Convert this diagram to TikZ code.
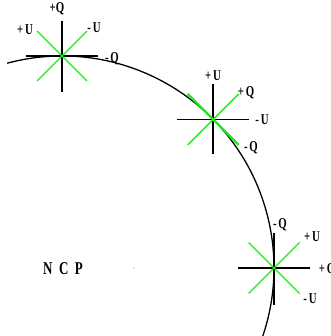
\documentclass[tikz,border=0pt]{standalone}
\usepackage{fontspec}
\setmainfont{Liberation Serif}
\usetikzlibrary{calc}
\definecolor{lime}{RGB}{30,235,30}
\tikzset{
  radline/.style={line width=1.5pt, black},
  tanline/.style={line width=2.6pt, black},
  diagline/.style={line width=1.3pt, lime},
  diagtan/.style={line width=2.2pt, lime},
  curve/.style={line width=1.3pt, black},
  lbl/.style={font=\bfseries\fontsize{15}{15}\selectfont, inner sep=0pt, xscale=0.72},
  big/.style={font=\bfseries\fontsize{18}{18}\selectfont, inner sep=0pt, xscale=0.72}
}
\begin{document}
\begin{tikzpicture}[x=1pt,y=1pt]
\useasboundingbox (0,0) rectangle (330,336);
\coordinate (C) at (62,68);
\coordinate (S1) at (62,280);
\coordinate (S2) at ($(C)+(44.5:212)$);
\coordinate (S3) at (274,68);
% arc
\draw[curve] (C) ++(105:212) arc[start angle=105, end angle=-19, radius=212];
% star 1
\draw[radline] ($(S1)+(0,35)$) -- ($(S1)+(0,-36)$);
\draw[tanline] ($(S1)+(-36,0)$) -- ($(S1)+(36,0)$);
\draw[diagline] ($(S1)+(-25,25)$) -- ($(S1)+(25,-25)$);
\draw[diagline] ($(S1)+(-25,-25)$) -- ($(S1)+(25,25)$);
% star 2
\draw[radline] ($(S2)+(0,35)$) -- ($(S2)+(0,-35)$);
\draw[radline] ($(S2)+(-36,0)$) -- ($(S2)+(36,0)$);
\draw[diagtan] ($(S2)+(-25.5,25.5)$) -- ($(S2)+(25.5,-25.5)$);
\draw[diagline] ($(S2)+(-25.5,-25.5)$) -- ($(S2)+(25.5,25.5)$);
% star 3
\draw[radline] ($(S3)+(-36,0)$) -- ($(S3)+(36,0)$);
\draw[tanline] ($(S3)+(0,35)$) -- ($(S3)+(0,-37)$);
\draw[diagline] ($(S3)+(-25.5,25.5)$) -- ($(S3)+(25.5,-25.5)$);
\draw[diagline] ($(S3)+(-25.5,-25.5)$) -- ($(S3)+(25.5,25.5)$);
% labels star 1
\node[lbl] (a1) at (57,327) {+Q};
\node[lbl] (a2) at (25,306) {+\,U};
\node[lbl] (a3) at (94,308) {-\,U};
\node[lbl] (a4) at (112,277) {-\,Q};
% labels star 2
\node[lbl] (b1) at (213,260) {+\,U};
\node[lbl] (b2) at (246,243) {+\,Q};
\node[lbl] (b3) at (262,216) {-\,U};
\node[lbl] (b4) at (251,188) {-\,Q};
% labels star 3
\node[lbl] (c1) at (280,111) {-\,Q};
\node[lbl] (c2) at (312,99) {+\,U};
\node[lbl] (c3) at (327,66) {+\,Q};
\node[lbl] (c4) at (310,37) {-\,U};
% NCP
\node[big] (ncp) at (63,67) {N\ \ C\ \ P};
\fill[gray] (134,68) circle (0.6);
\end{tikzpicture}
\end{document}
